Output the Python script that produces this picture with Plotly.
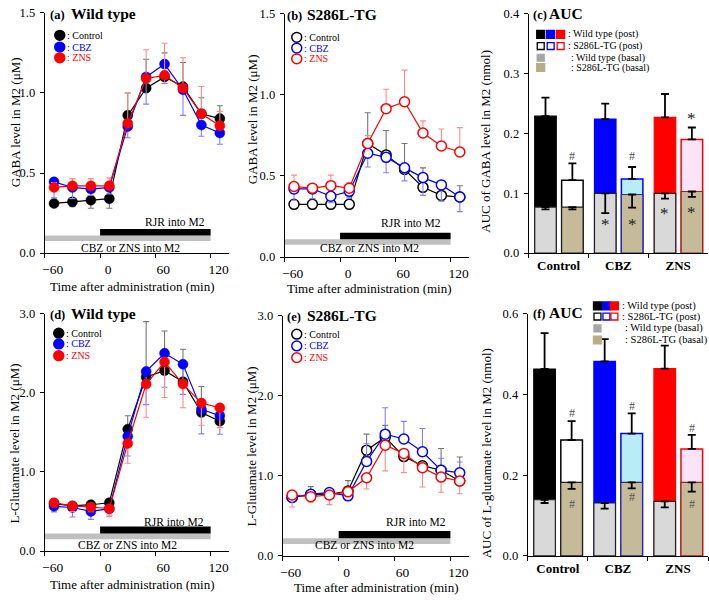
import plotly.graph_objects as go

W, H = 709, 600
FONT = "Liberation Serif"

# ---------------- data ----------------
t = [-50, -30, -10, 10, 30, 50, 70, 90, 110, 130]
x_ticks = [-60, 0, 60, 120]
x_tick_text = ["\u221260", "0", "60", "120"]
rjr_period = [0, 120]
drug_period = [-60, 120]

# (a) GABA, wild type
a_ctrl = [0.31, 0.32, 0.33, 0.34, 0.86, 1.03, 1.10, 1.04, 0.87, 0.84]
a_ctrl_up = [0, 0, 0, 0, 0.14, 0.18, 0.15, 0.15, 0.10, 0.08]
a_ctrl_dn = [0.02, 0.03, 0.05, 0.06, 0, 0, 0, 0, 0, 0]
a_cbz = [0.445, 0.41, 0.40, 0.41, 0.79, 1.10, 1.18, 1.02, 0.80, 0.75]
a_cbz_up = [0, 0, 0, 0, 0, 0, 0, 0, 0, 0]
a_cbz_dn = [0.10, 0.07, 0.04, 0.04, 0.07, 0.17, 0.12, 0.16, 0.07, 0.07]
a_zns = [0.41, 0.42, 0.42, 0.42, 0.81, 1.09, 1.11, 1.03, 0.87, 0.795]
a_zns_up = [0.03, 0.045, 0.045, 0.05, 0.19, 0.18, 0.20, 0.19, 0.17, 0.09]
a_zns_dn = [0, 0, 0, 0, 0, 0, 0, 0, 0, 0]

# (b) GABA, S286L-TG
b_ctrl = [0.325, 0.325, 0.325, 0.325, 0.70, 0.63, 0.54, 0.43, 0.38, 0.37]
b_ctrl_up = [0, 0, 0, 0, 0.19, 0.15, 0.16, 0.12, 0, 0.07]
b_ctrl_dn = [0, 0, 0, 0, 0, 0, 0, 0, 0.03, 0]
b_cbz = [0.42, 0.42, 0.375, 0.405, 0.64, 0.615, 0.55, 0.49, 0.445, 0.37]
b_cbz_up = [0, 0, 0, 0, 0, 0, 0, 0, 0, 0]
b_cbz_dn = [0.07, 0.06, 0.04, 0.04, 0.085, 0.095, 0.08, 0.11, 0.10, 0.09]
b_zns = [0.435, 0.425, 0.44, 0.425, 0.70, 0.915, 0.958, 0.765, 0.685, 0.648]
b_zns_up = [0.07, 0, 0.065, 0.035, 0.05, 0.12, 0.195, 0.075, 0.105, 0.15]
b_zns_dn = [0, 0, 0, 0, 0, 0, 0, 0, 0, 0]

# (d) L-glutamate, wild type
d_ctrl = [0.60, 0.57, 0.585, 0.61, 1.54, 2.20, 2.28, 2.14, 1.75, 1.64]
d_ctrl_up = [0, 0, 0, 0, 0.17, 0.70, 0.50, 0.41, 0.33, 0]
d_ctrl_dn = [0, 0, 0, 0, 0, 0, 0, 0, 0, 0]
d_cbz = [0.565, 0.55, 0.50, 0.535, 1.45, 2.27, 2.50, 2.36, 1.79, 1.71]
d_cbz_up = [0, 0, 0, 0, 0, 0, 0, 0, 0, 0]
d_cbz_dn = [0.07, 0.12, 0.10, 0.08, 0.25, 0.42, 0.43, 0.38, 0.31, 0.235]
d_zns = [0.61, 0.57, 0.556, 0.535, 1.36, 2.11, 2.39, 2.11, 1.87, 1.81]
d_zns_up = [0, 0, 0, 0, 0, 0, 0, 0, 0, 0]
d_zns_dn = [0.05, 0.07, 0.06, 0.10, 0.25, 0.42, 0.45, 0.30, 0.28, 0.25]

# (e) L-glutamate, S286L-TG
e_ctrl = [0.73, 0.765, 0.77, 0.81, 1.32, 1.48, 1.24, 1.126, 1.07, 0.935]
e_ctrl_up = [0, 0.10, 0.05, 0.13, 0.20, 0.15, 0, 0, 0.27, 0.30]
e_ctrl_dn = [0, 0, 0, 0, 0, 0, 0, 0, 0, 0]
e_cbz = [0.73, 0.77, 0.79, 0.75, 1.18, 1.52, 1.46, 1.30, 1.07, 1.037]
e_cbz_up = [0.05, 0.05, 0.05, 0.05, 0.22, 0.33, 0.22, 0.29, 0.15, 0.135]
e_cbz_dn = [0, 0, 0, 0, 0, 0, 0, 0, 0, 0]
e_zns = [0.76, 0.74, 0.76, 0.80, 0.976, 1.382, 1.28, 1.10, 0.984, 0.935]
e_zns_up = [0, 0, 0, 0, 0, 0, 0, 0, 0, 0]
e_zns_dn = [0.15, 0.07, 0.12, 0.03, 0.14, 0.32, 0.24, 0.24, 0.19, 0.16]

# (c) AUC GABA
groups = ["Control", "CBZ", "ZNS"]
c_wt_post = [0.229, 0.224, 0.227]
c_wt_post_err = [0.031, 0.026, 0.039]
c_tg_post = [0.122, 0.124, 0.19]
c_tg_post_err = [0.028, 0.02, 0.02]
c_wt_basal = [0.077, 0.100, 0.100]
c_wt_basal_err = [0.004, 0.033, 0.009]
c_tg_basal = [0.077, 0.098, 0.103]
c_tg_basal_err = [0.004, 0.022, 0.009]
c_mark_sym = ["#", "*", "#", "*", "*", "*", "*"]
c_mark_grp = [0, 1, 1, 1, 2, 2, 2]
c_mark_bar = ["tg", "wt", "tg", "tg", "wt", "tg", "tg"]
c_mark_y = [0.163, 0.055, 0.163, 0.055, 0.073, 0.232, 0.075]

# (f) AUC L-glutamate
f_wt_post = [0.463, 0.482, 0.464]
f_wt_post_err = [0.089, 0.055, 0.057]
f_tg_post = [0.287, 0.303, 0.265]
f_tg_post_err = [0.047, 0.050, 0.035]
f_wt_basal = [0.139, 0.131, 0.135]
f_wt_basal_err = [0.008, 0.014, 0.015]
f_tg_basal = [0.182, 0.182, 0.182]
f_tg_basal_err = [0.016, 0.015, 0.023]
f_mark_sym = ["#", "#", "#", "#", "#", "#"]
f_mark_grp = [0, 0, 1, 1, 2, 2]
f_mark_bar = ["tg", "tg", "tg", "tg", "tg", "tg"]
f_mark_y = [0.353, 0.129, 0.372, 0.145, 0.317, 0.129]

# ---------------- style ----------------
BLACK, BLUE, RED = "#000000", "#0000ff", "#ff0000"
EBLACK, EBLUE, ERED = "#777777", "#8080ff", "#ff8a8a"
GRAY_BAR = "#c0c0c0"
BASAL_WT = "#d9d9d9"
BASAL_TG = "#c6bb98"
TG_FILL = ["#ffffff", "#b8ecf7", "#fde3f7"]
GRP_COL = [BLACK, BLUE, RED]

WT_OFF, TG_OFF, BW = -0.40, 0.05, 0.36


def xdom(a, b):
    return [a / W, b / W]


def ydom(top, bot):
    return [1 - bot / H, 1 - top / H]


def px(x, y):
    return x / W, 1 - y / H


fig = go.Figure()


def add_series(n, y, up, dn, color, ecolor, filled):
    fig.add_trace(go.Scatter(
        x=t, y=y, mode="lines+markers", xaxis="x" + n, yaxis="y" + n,
        line=dict(color=color, width=1.2),
        marker=dict(size=10, color=color if filled else "white",
                    line=dict(color=color, width=0.5 if filled else 1.5)),
        error_y=dict(type="data", symmetric=False, array=up, arrayminus=dn,
                     color=ecolor, thickness=1.1, width=3),
        showlegend=False, cliponaxis=False, hoverinfo="skip"))


add_series("", a_ctrl, a_ctrl_up, a_ctrl_dn, BLACK, EBLACK, True)
add_series("", a_cbz, a_cbz_up, a_cbz_dn, BLUE, EBLUE, True)
add_series("", a_zns, a_zns_up, a_zns_dn, RED, ERED, True)
add_series("2", b_ctrl, b_ctrl_up, b_ctrl_dn, BLACK, EBLACK, False)
add_series("2", b_cbz, b_cbz_up, b_cbz_dn, BLUE, EBLUE, False)
add_series("2", b_zns, b_zns_up, b_zns_dn, RED, ERED, False)
add_series("4", d_ctrl, d_ctrl_up, d_ctrl_dn, BLACK, EBLACK, True)
add_series("4", d_cbz, d_cbz_up, d_cbz_dn, BLUE, EBLUE, True)
add_series("4", d_zns, d_zns_up, d_zns_dn, RED, ERED, True)
add_series("5", e_ctrl, e_ctrl_up, e_ctrl_dn, BLACK, EBLACK, False)
add_series("5", e_cbz, e_cbz_up, e_cbz_dn, BLUE, EBLUE, False)
add_series("5", e_zns, e_zns_up, e_zns_dn, RED, ERED, False)


def add_bars(n, wt_post, wt_post_err, tg_post, tg_post_err,
             wt_basal, wt_basal_err, tg_basal, tg_basal_err):
    common = dict(x=groups, xaxis="x" + n, yaxis="y" + n, width=BW,
                  showlegend=False, hoverinfo="skip")
    eb_up = lambda e: dict(type="data", symmetric=False, array=e,
                           arrayminus=[0] * len(e), color="black",
                           thickness=1.8, width=4)
    eb_dn = lambda e: dict(type="data", symmetric=False, arrayminus=e,
                           array=[0] * len(e), color="black",
                           thickness=1.8, width=4)
    fig.add_trace(go.Bar(y=wt_post, offset=WT_OFF,
                         marker=dict(color=GRP_COL, line=dict(color=GRP_COL, width=1.2)),
                         error_y=eb_up(wt_post_err), **common))
    fig.add_trace(go.Bar(y=tg_post, offset=TG_OFF,
                         marker=dict(color=TG_FILL, line=dict(color=GRP_COL, width=1.5)),
                         error_y=eb_up(tg_post_err), **common))
    fig.add_trace(go.Bar(y=wt_basal, offset=WT_OFF,
                         marker=dict(color=BASAL_WT, line=dict(color="#222222", width=1.2)),
                         error_y=eb_dn(wt_basal_err), **common))
    fig.add_trace(go.Bar(y=tg_basal, offset=TG_OFF,
                         marker=dict(color=BASAL_TG, line=dict(color=["#222222", "#2a2a9a", "#a02020"], width=1.2)),
                         error_y=eb_dn(tg_basal_err), **common))


add_bars("3", c_wt_post, c_wt_post_err, c_tg_post, c_tg_post_err,
         c_wt_basal, c_wt_basal_err, c_tg_basal, c_tg_basal_err)
add_bars("6", f_wt_post, f_wt_post_err, f_tg_post, f_tg_post_err,
         f_wt_basal, f_wt_basal_err, f_tg_basal, f_tg_basal_err)

# ---------------- axes ----------------
base = dict(showline=True, linecolor="black", linewidth=1.2, ticks="outside",
            tickcolor="black", ticklen=4, tickwidth=1.2, showgrid=False,
            zeroline=False, tickfont=dict(family=FONT, size=12.5, color="black"))

xt = dict(base, range=[-60, 140], tickvals=x_ticks, ticktext=x_tick_text,
          ticklabelshift=8, tickfont=dict(family=FONT, size=13.5, color="black"))
xc = dict(base, type="category", range=[-0.5, 2.5], tickson="boundaries",
          tickvals=groups, ticktext=["<b>" + g + "</b>" for g in groups],
          tickfont=dict(family=FONT, size=13, color="black"))


def yax(rng, vals, anchor):
    return dict(base, range=rng, tickvals=vals, tickformat=".1f",
                ticklabelstandoff=2, anchor=anchor)


fig.update_layout(
    width=W, height=H, margin=dict(l=0, r=0, t=0, b=0),
    paper_bgcolor="white", plot_bgcolor="white", barmode="overlay",
    font=dict(family=FONT, color="black"),
    xaxis=dict(xt, domain=xdom(42, 227), anchor="y"),
    yaxis=dict(yax([0, 1.5], [0, 0.5, 1.0, 1.5], "x"), domain=ydom(6, 252)),
    xaxis2=dict(xt, domain=xdom(283, 468), anchor="y2"),
    yaxis2=dict(yax([0, 1.5], [0, 0.5, 1.0, 1.5], "x2"), domain=ydom(7, 256)),
    xaxis3=dict(xc, domain=xdom(528, 708), anchor="y3"),
    yaxis3=dict(yax([0, 0.4], [0, 0.1, 0.2, 0.3, 0.4], "x3"), domain=ydom(7, 252)),
    xaxis4=dict(xt, domain=xdom(42, 227), anchor="y4"),
    yaxis4=dict(yax([0, 3], [0, 1, 2, 3], "x4"), domain=ydom(314, 557)),
    xaxis5=dict(xt, domain=xdom(281, 468), anchor="y5"),
    yaxis5=dict(yax([0, 3], [0, 1, 2, 3], "x5"), domain=ydom(316, 562)),
    xaxis6=dict(xc, domain=xdom(527, 708), anchor="y6"),
    yaxis6=dict(yax([0, 0.6], [0, 0.2, 0.4, 0.6], "x6"), domain=ydom(314, 562)),
)

shapes = []
annotations = []


def ann(text, x, y, size, color="black", xanchor="center", angle=0, yanchor="middle"):
    xp, yp = px(x, y)
    annotations.append(dict(text=text, x=xp, y=yp, xref="paper", yref="paper",
                            showarrow=False, xanchor=xanchor, yanchor=yanchor,
                            textangle=angle, borderpad=0,
                            font=dict(family=FONT, size=size, color=color)))


# protocol bars (time panels)
proto = [("", [0.11, 0.15], [0.075, 0.11]),
         ("2", [0.11, 0.15], [0.075, 0.11]),
         ("4", [0.22, 0.31], [0.15, 0.22]),
         ("5", [0.22, 0.31], [0.15, 0.22])]
for n, rj, dr in proto:
    shapes.append(dict(type="rect", xref="x" + n, yref="y" + n,
                       x0=drug_period[0], x1=drug_period[1], y0=dr[0], y1=dr[1],
                       fillcolor=GRAY_BAR, line=dict(width=0), layer="below"))
    shapes.append(dict(type="rect", xref="x" + n, yref="y" + n,
                       x0=rjr_period[0], x1=rjr_period[1], y0=rj[0], y1=rj[1],
                       fillcolor="black", line=dict(width=0), layer="below"))

# protocol labels
for (rx, ry, cx, cy) in [(173, 220, 128, 247), (410, 221, 368, 247),
                         (172, 527, 125, 551), (415, 527, 363, 551)]:
    ann("RJR into M2", rx, ry, 11.5)
    ann("CBZ or ZNS into M2", cx, cy, 11.5)

# panel titles
for (lab, name, x0, x1, y) in [("(a)", "Wild type", 46, 67, 8),
                               ("(b)", "S286L-TG", 284, 304, 9),
                               ("(c)", "AUC", 531, 547, 8),
                               ("(d)", "Wild type", 46, 67, 315),
                               ("(e)", "S286L-TG", 284, 304, 317),
                               ("(f)", "AUC", 531, 547, 314)]:
    ann("<b>" + lab + "</b>", x0, y, 12.5, xanchor="left")
    ann("<b>" + name + "</b>", x1, y - 1, 15.5, xanchor="left")

# axis titles
for (txt, x, y) in [("GABA level in M2 (\u03bcM)", 12, 118),
                    ("GABA level in M2 (\u03bcM)", 250, 115),
                    ("AUC of GABA level in M2 (nmol)", 485, 137),
                    ("L-Glutamate level in M2 (\u03bcM)", 12, 447),
                    ("L-Glutamate level in M2 (\u03bcM)", 250, 450),
                    ("AUC of L-glutamate level in M2 (nmol)", 485, 457)]:
    ann(txt, x, y, 13, angle=-90)
for (x, y) in [(130, 286), (368, 288), (130, 591), (375, 594)]:
    ann("Time after administration (min)", x, y, 13)

# time-course legends
legend_names = [": Control", ": CBZ", ": ZNS"]
for (mx, rows, filled) in [(57, [29, 41, 52], True), (295, [31, 42, 53], False),
                           (56, [334, 345, 357], True), (295, [335, 347, 359], False)]:
    for name, col, yy in zip(legend_names, GRP_COL, rows):
        x0, y0 = px(mx - 5, yy - 5)
        x1, y1 = px(mx + 5, yy + 5)
        shapes.append(dict(type="circle", xref="paper", yref="paper",
                           x0=x0, x1=x1, y0=y1, y1=y0,
                           fillcolor=col if filled else "white",
                           line=dict(color=col, width=1.5)))
        ann(name, mx + 6, yy, 10, color=col, xanchor="left")


# AUC legends
def sq(cx, cy, s, fill, edge):
    x0, y0 = px(cx - s / 2, cy - s / 2)
    x1, y1 = px(cx + s / 2, cy + s / 2)
    shapes.append(dict(type="rect", xref="paper", yref="paper",
                       x0=x0, x1=x1, y0=y1, y1=y0, fillcolor=fill,
                       line=dict(color=edge, width=1.3)))


for (xs, rows, tx, tx2, fs) in [([540, 550, 560], [28, 40, 52, 62], 566, 569, 10),
                                ([597, 606, 614], [306, 317, 329, 341], 621, 624, 10.5)]:
    for xx, col in zip(xs, GRP_COL):
        sq(xx, rows[0], 8, col, col)
        sq(xx, rows[1], 7, "white", col)
    sq(xs[0], rows[2], 7, "#a6a6a6", "#a6a6a6")
    sq(xs[0], rows[3], 8, "#b8ad88", "#b8ad88")
    ann(": Wild type (post)", tx, rows[0], fs, xanchor="left")
    ann(": S286L-TG (post)", tx, rows[1], fs, xanchor="left")
    ann(": Wild type (basal)", tx2, rows[2], fs, xanchor="left")
    ann(": S286L-TG (basal)", tx2, rows[3], fs, xanchor="left")

# significance marks
for n, syms, grps, bars, ys in [("3", c_mark_sym, c_mark_grp, c_mark_bar, c_mark_y),
                                ("6", f_mark_sym, f_mark_grp, f_mark_bar, f_mark_y)]:
    for s, g, b, yv in zip(syms, grps, bars, ys):
        xc_ = g + (WT_OFF if b == "wt" else TG_OFF) + BW / 2
        annotations.append(dict(
            text=s, x=xc_, y=yv, xref="x" + n, yref="y" + n, showarrow=False,
            yshift=-4 if s == "*" else 0,
            font=dict(family=FONT, size=17 if s == "*" else 12,
                      color="#222222" if s == "*" else "#555555")))

fig.update_layout(shapes=shapes, annotations=annotations)
fig.write_html("out.html", config={"displayModeBar": False},
               post_script="document.body.style.margin='0';"
                           "document.body.style.overflow='hidden';")
